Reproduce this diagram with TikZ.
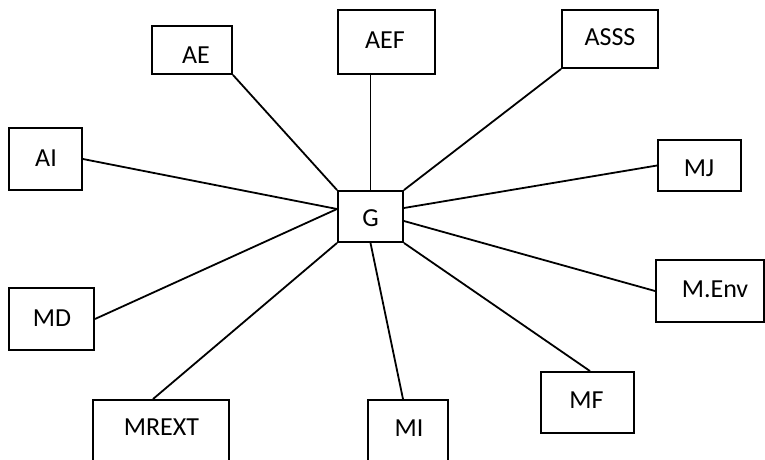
\documentclass[tikz,border=0pt]{standalone}
\usepackage{fontspec}
\setmainfont{Carlito}
\begin{document}
\begin{tikzpicture}[x=1pt,y=-1pt,
  box/.style={draw=black,line width=1.9pt,rectangle,inner sep=0pt,fill=white},
  lbl/.style={inner sep=0pt,font=\fontsize{26}{30}\selectfont,text height=16.4pt,text depth=0pt,anchor=center},
  conn/.style={draw=black,line width=1.8pt}]
\clip (0,0) rectangle (765,459);
\fill[white] (0,0) rectangle (765,459);
% boxes
\node[box,minimum width=80pt,minimum height=48pt] (AE) at (192,50) {};
\node[box,minimum width=97pt,minimum height=64pt] (AEF) at (386.5,42) {};
\node[box,minimum width=96pt,minimum height=58pt] (ASSS) at (610,39) {};
\node[box,minimum width=73pt,minimum height=62pt] (AI) at (45.5,159) {};
\node[box,minimum width=83pt,minimum height=51pt] (MJ) at (699.5,165.5) {};
\node[box,minimum width=65pt,minimum height=51pt] (G) at (370.5,216.5) {};
\node[box,minimum width=108pt,minimum height=62pt] (MEnv) at (710,291) {};
\node[box,minimum width=85pt,minimum height=62pt] (MD) at (51.5,319) {};
\node[box,minimum width=93pt,minimum height=61pt] (MF) at (587.5,402.5) {};
\node[box,minimum width=136pt,minimum height=70pt] (MREXT) at (161,435) {};
\node[box,minimum width=80pt,minimum height=70pt] (MI) at (408,435) {};
% labels
\node[lbl] (tAE) at (196,55) {AE};
\node[lbl] (tAEF) at (385,40) {AEF};
\node[lbl] (tASSS) at (610,37.5) {ASSS};
\node[lbl] (tAI) at (46,158.5) {AI};
\node[lbl] (tMJ) at (699,168) {MJ};
\node[lbl] (tG) at (370.5,218.5) {G};
\node[lbl] (tMEnv) at (715,289.5) {M.Env};
\node[lbl] (tMD) at (52,318.5) {MD};
\node[lbl] (tMF) at (586.5,400.5) {MF};
\node[lbl] (tMREXT) at (161.5,427.5) {MREXT};
\node[lbl] (tMI) at (409,428.5) {MI};
% connectors
\draw[conn] (AE.south east) -- (G.north west);
\draw[conn] (AEF.south -| G.north) -- (G.north);
\draw[conn] (ASSS.south west) -- (G.north east);
\draw[conn] (AI.east) -- ([yshift=7.5pt]G.west);
\draw[conn] (MD.east) -- ([yshift=7.5pt]G.west);
\draw[conn] (MJ.west) -- ([yshift=8.5pt]G.east);
\draw[conn] (MEnv.west) -- ([yshift=-4.5pt]G.east);
\draw[conn] ([xshift=2.5pt]MF.north) -- (G.south east);
\draw[conn] ([xshift=-8pt]MREXT.north) -- (G.south west);
\draw[conn] ([xshift=-5pt]MI.north) -- (G.south);
\end{tikzpicture}
\end{document}
